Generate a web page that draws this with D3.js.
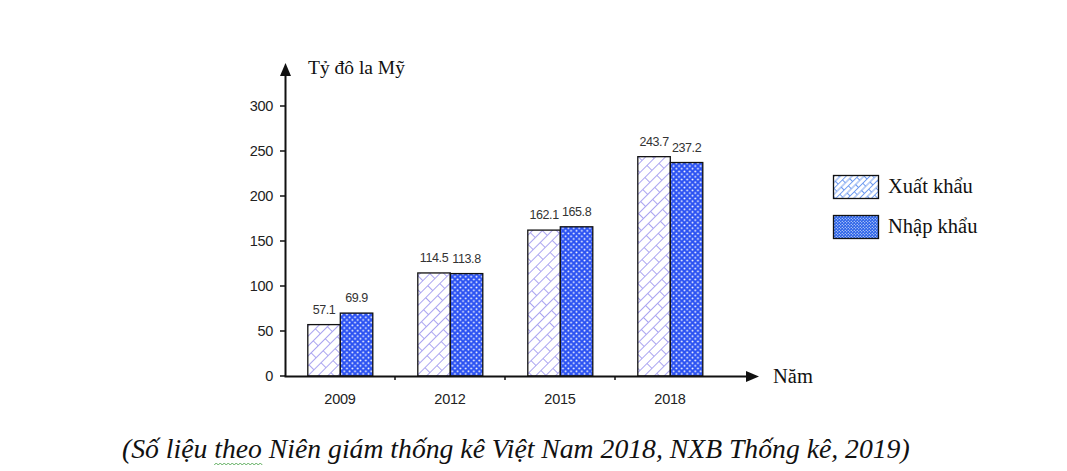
<!DOCTYPE html>
<html><head><meta charset="utf-8">
<script src="https://cdn.jsdelivr.net/npm/d3@7"></script>
<style>body{margin:0;background:#fff;} svg{display:block;}</style>
</head><body>
<svg id="c" width="1067" height="471"></svg>
<script>
const years = ["2009","2012","2015","2018"];
const seriesNames = ["Xuất khẩu","Nhập khẩu"];
const xuatKhau = [57.1,114.5,162.1,243.7];
const nhapKhau = [69.9,113.8,165.8,237.2];
const yTicks = [0,50,100,150,200,250,300];
const yLabel = "Tỷ đô la Mỹ";
const xLabel = "Năm";
const caption = "(Số liệu theo Niên giám thống kê Việt Nam 2018, NXB Thống kê, 2019)";

const svg = d3.select("#c");
const defs = svg.append("defs");

function brick(id, color, s, sw){
  const p = defs.append("pattern").attr("id",id).attr("patternUnits","userSpaceOnUse")
    .attr("width",s*2).attr("height",s*1.4).attr("patternTransform","rotate(-45)");
  p.append("rect").attr("width",s*2).attr("height",s*1.4).attr("fill","#fff");
  p.append("path").attr("d",`M0,0.5H${s*2} M0,${s*0.7+0.5}H${s*2} M0.5,0V${s*0.7} M${s+0.5},${s*0.7}V${s*1.4}`)
    .attr("stroke",color).attr("stroke-width",sw).attr("fill","none");
}
function dots(id, bg, s, r){
  const p = defs.append("pattern").attr("id",id).attr("patternUnits","userSpaceOnUse")
    .attr("width",s).attr("height",s);
  p.append("rect").attr("width",s).attr("height",s).attr("fill",bg);
  p.append("circle").attr("cx",s*0.25).attr("cy",s*0.25).attr("r",r).attr("fill","#fff");
  p.append("circle").attr("cx",s*0.75).attr("cy",s*0.75).attr("r",r).attr("fill","#fff");
}
brick("pX","#aaa4f0",10,1);
dots("pN","#2b52f2",5.4,0.95);
brick("lX","#6f9bf0",6,1);
dots("lN","#2a62e8",3,0.6);

const y = d3.scaleLinear().domain([0,300]).range([376,106]);
const x = d3.scaleBand().domain(years).range([285,725]);
const xi = d3.scaleBand().domain(seriesNames).range([22.8, 87.8]);
const vals = [xuatKhau, nhapKhau];
const fills = ["url(#pX)","url(#pN)"];

// bars
seriesNames.forEach((s,si)=>{
  svg.append("g").selectAll("rect").data(years).join("rect")
    .attr("x",d=>x(d)+xi(s))
    .attr("y",(d,i)=>y(vals[si][i]))
    .attr("width",xi.bandwidth())
    .attr("height",(d,i)=>y(0)-y(vals[si][i]))
    .attr("fill",fills[si]).attr("stroke","#111").attr("stroke-width",1.3);
  svg.append("g").selectAll("text").data(years).join("text")
    .attr("x",d=>x(d)+xi(s)+xi.bandwidth()/2)
    .attr("y",(d,i)=>y(vals[si][i])-11)
    .attr("text-anchor","middle")
    .attr("font-family","Liberation Sans, Arial, sans-serif")
    .attr("font-size",12.5).attr("fill","#333")
    .attr("letter-spacing","-0.4")
    .text((d,i)=>vals[si][i]);
});

// y axis
const ax = svg.append("g").attr("stroke","#111");
ax.append("line").attr("x1",285.5).attr("x2",285.5).attr("y1",y(0)).attr("y2",72).attr("stroke-width",2);
svg.append("path").attr("d",`M285.5,63 L280,76 L291,76 Z`).attr("fill","#111");
ax.selectAll(".yt").data(yTicks).join("line")
  .attr("x1",280).attr("x2",285).attr("y1",d=>y(d)).attr("y2",d=>y(d)).attr("stroke-width",1.5);
svg.append("g").selectAll("text").data(yTicks).join("text")
  .attr("x",273).attr("y",d=>y(d)+5).attr("text-anchor","end")
  .attr("font-family","Liberation Sans, Arial, sans-serif").attr("font-size",14.5)
  .attr("letter-spacing","-0.3").attr("fill","#222").text(d=>d);

// x axis
ax.append("line").attr("x1",284.5).attr("x2",750).attr("y1",376.5).attr("y2",376.5).attr("stroke-width",2);
svg.append("path").attr("d",`M759,376.5 L746,371 L746,382 Z`).attr("fill","#111");
ax.selectAll(".xt").data(years.slice(1)).join("line")
  .attr("x1",d=>x(d)).attr("x2",d=>x(d)).attr("y1",376).attr("y2",380).attr("stroke-width",1.5);
svg.append("g").selectAll("text").data(years).join("text")
  .attr("x",d=>x(d)+x.bandwidth()/2).attr("y",404).attr("text-anchor","middle")
  .attr("font-family","Liberation Sans, Arial, sans-serif").attr("font-size",14.5)
  .attr("letter-spacing","-0.2").attr("fill","#222").text(d=>d);

// axis labels
svg.append("text").attr("x",308).attr("y",74).attr("font-family","Liberation Serif, Times New Roman, serif")
  .attr("font-size",19.5).attr("fill","#111").text(yLabel);
svg.append("text").attr("x",773).attr("y",383).attr("font-family","Liberation Serif, Times New Roman, serif")
  .attr("font-size",20.5).attr("fill","#111").text(xLabel);

// legend
const lg = svg.append("g");
const lfill = ["url(#lX)","url(#lN)"];
seriesNames.forEach((s,i)=>{
  lg.append("rect").attr("x",833.5).attr("y",175.5+i*40).attr("width",45).attr("height",23)
    .attr("fill",lfill[i]).attr("stroke","#111").attr("stroke-width",1.3);
  lg.append("text").attr("x",888).attr("y",193+i*40)
    .attr("font-family","Liberation Serif, Times New Roman, serif").attr("font-size",20.5)
    .attr("fill","#111").text(s);
});

// caption
const cap = svg.append("text").attr("x",122).attr("y",458)
  .attr("font-family","Liberation Serif, Times New Roman, serif").attr("font-style","italic")
  .attr("font-size",27.7).attr("fill","#111").text(caption);
// spell-check wavy underline under "theo"
const node = cap.node();
const start = caption.indexOf("theo");
try{
  const x0 = node.getStartPositionOfChar(start).x;
  const x1 = node.getEndPositionOfChar(start+3).x;
  let d = `M${x0},465`;
  for(let xx=x0, k=0; xx<x1; xx+=2, k++){ d += ` L${xx+2},${k%2?465:463}`; }
  svg.append("path").attr("d",d).attr("fill","none").attr("stroke","#5fae5f").attr("stroke-width",1);
}catch(e){}
</script>
</body></html>
